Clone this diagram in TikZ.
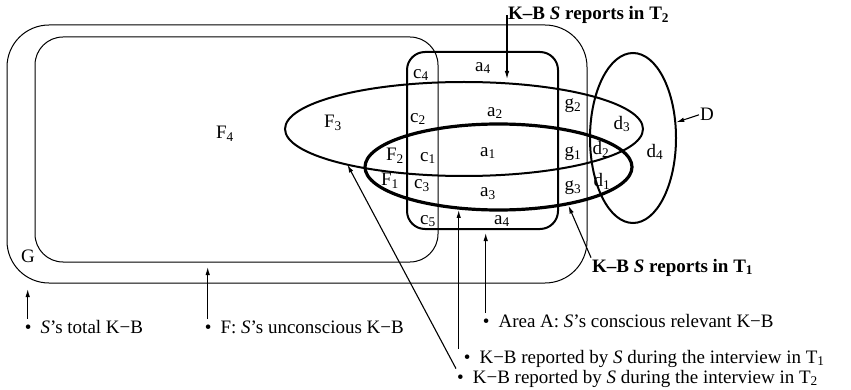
\documentclass[tikz,border=0pt]{standalone}
\usepackage{fontspec}
\setmainfont{Liberation Serif}
\usetikzlibrary{shapes.geometric,arrows.meta,positioning}
\newcommand{\itembul}{\textbullet\hspace{9pt}}
\begin{document}
\begin{tikzpicture}[
x=1pt, y=-1pt,
every node/.style={
font=\fontsize{19}{22}\selectfont,
inner sep=1pt
},
roundbox/.style={draw, rounded corners=#1, line width=1pt, inner sep=0pt, outer sep=0pt},
oval/.style={draw, ellipse, line width=#1, inner sep=0pt, outer sep=0pt},
note/.style={anchor=base west},
arr/.style={-{Latex[length=8pt,width=4.5pt]}, line width=1.1pt}
]
\useasboundingbox (0,0) rectangle (851,390);
\node[roundbox=42pt, minimum width=580pt, minimum height=258pt] (g) at (297,154) {};
\node[roundbox=28pt, minimum width=403pt, minimum height=225pt] (f) at (236.5,149.5) {};
\node[roundbox=18pt, line width=2pt, minimum width=151pt, minimum height=177pt] (a) at (482.5,140.5) {};
\node[oval=2pt, minimum width=358pt, minimum height=94pt] (f3) at (464,129) {};
\node[oval=3.2pt, minimum width=267pt, minimum height=86pt] (f1) at (498.5,167) {};
\node[oval=2pt, minimum width=86pt, minimum height=170pt] (d) at (633,138) {};
\node (lg) at (28,256) {G};
\node (lf4) at (225,134) {F\textsubscript{4}};
\node (lf3) at (333,123) {F\textsubscript{3}};
\node (lf2) at (395,156) {F\textsubscript{2}};
\node (lf1) at (390,181) {F\textsubscript{1}};
\node (lc4) at (421,75) {c\textsubscript{4}};
\node (lc2) at (418,119) {c\textsubscript{2}};
\node (lc1) at (428,158) {c\textsubscript{1}};
\node (lc3) at (422,186) {c\textsubscript{3}};
\node (lc5) at (428,221) {c\textsubscript{5}};
\node (la4top) at (483,68) {a\textsubscript{4}};
\node (la2) at (495,113) {a\textsubscript{2}};
\node (la1) at (488,153) {a\textsubscript{1}};
\node (la3) at (488,194) {a\textsubscript{3}};
\node (la4bot) at (502,221) {a\textsubscript{4}};
\node (lg2) at (573,106) {g\textsubscript{2}};
\node (lg1) at (573,154) {g\textsubscript{1}};
\node (lg3) at (573,188) {g\textsubscript{3}};
\node (ld3) at (622,124) {d\textsubscript{3}};
\node (ld2) at (601,149) {d\textsubscript{2}};
\node (ld1) at (602,181) {d\textsubscript{1}};
\node (ld4) at (655,152) {d\textsubscript{4}};
\node[note] (repT2) at (507,20) {\bfseries K–B \textit{S} reports in T\textsubscript{2}};
\node[note] (repT1) at (591,272) {\bfseries K–B \textit{S} reports in T\textsubscript{1}};
\node[note] (dlab) at (699,121) {D};
\node[note] (total) at (23.7,333) {\itembul\textit{S}’s total K−B};
\node[note] (uncon) at (203.7,333) {\itembul F: \textit{S}’s unconscious K−B};
\node[note] (areaA) at (481.7,327) {\itembul Area A: \textit{S}’s conscious relevant K−B};
\node[note] (intT1) at (462.7,363) {\itembul K−B reported by \textit{S} during the interview in T\textsubscript{1}};
\node[note] (intT2) at (456,383) {\itembul K−B reported by \textit{S} during the interview in T\textsubscript{2}};
\coordinate (totalfoot) at ([xshift=4pt]total.north west);
\coordinate (unconfoot) at ([xshift=4pt]uncon.north west);
\coordinate (areafoot) at ([xshift=4pt]areaA.north west);
\coordinate (t1foot) at ([xshift=-4pt]intT1.north west);
\draw[arr, shorten >=6pt] (totalfoot) -- (totalfoot |- g.south);
\draw[arr, shorten >=5pt] (unconfoot) -- (unconfoot |- f.south);
\draw[arr, shorten >=4pt] (areafoot) -- (areafoot |- a.south);
\draw[arr] (t1foot) -- (t1foot |- f1.south);
\draw[arr] (intT2.north west) -- (f3.197);
\draw[arr, shorten >=3pt] (repT2.west) -- (repT2.west |- f3.north);
\draw[arr, shorten >=2pt] (repT1.north west) -- (f1.-28);
\draw[arr, shorten >=1pt] (dlab.west) -- (d.20);
\end{tikzpicture}
\end{document}
